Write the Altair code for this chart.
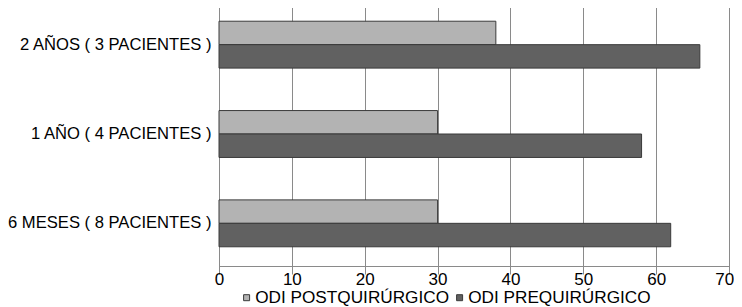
import altair as alt
import pandas as pd

categories = ["2 AÑOS ( 3 PACIENTES )", "1 AÑO ( 4 PACIENTES )", "6 MESES ( 8 PACIENTES )"]
series = ["ODI POSTQUIRÚRGICO", "ODI PREQUIRÚRGICO"]
post_values = [38, 30, 30]
pre_values = [66, 58, 62]
x_ticks = [0, 10, 20, 30, 40, 50, 60, 70]
colors = ["#b3b3b3", "#616161"]

rows = []
for cat, v in zip(categories, post_values):
    rows.append({"periodo": cat, "serie": series[0], "valor": v})
for cat, v in zip(categories, pre_values):
    rows.append({"periodo": cat, "serie": series[1], "valor": v})
df = pd.DataFrame(rows)

FONT = "Liberation Sans"
TEXT = "#000000"

chart = alt.Chart(df).mark_bar(stroke="#3a3a3a", strokeWidth=1).encode(
    x=alt.X(
        "valor:Q",
        scale=alt.Scale(domain=[0, 70], nice=False),
        axis=alt.Axis(
            values=x_ticks, title=None, grid=True, gridColor="#8a8a8a", gridWidth=1,
            ticks=False, labelPadding=5, labelFontSize=17, labelFont=FONT,
            labelColor=TEXT, domainColor="#8a8a8a", labelFlush=True,
            labelFlushOffset=4.7, labelOverlap=False,
        ),
    ),
    y=alt.Y(
        "periodo:N",
        sort=categories,
        scale=alt.Scale(range=[-8, 260], paddingInner=0.475, paddingOuter=0.2375),
        axis=alt.Axis(
            title=None, ticks=False, domain=False, labelPadding=8,
            labelFontSize=16.6, labelFont=FONT, labelColor=TEXT, labelLimit=400,
        ),
    ),
    yOffset=alt.YOffset("serie:N", sort=series, scale=alt.Scale(paddingInner=0, paddingOuter=0)),
    color=alt.Color(
        "serie:N",
        sort=series,
        scale=alt.Scale(domain=series, range=colors),
        legend=alt.Legend(
            title=None, orient="none", legendX=19, legendY=281, direction="horizontal",
            symbolType="square", symbolSize=36, symbolStrokeColor="#3a3a3a",
            symbolStrokeWidth=1, labelFontSize=17.2, labelFont=FONT, labelColor=TEXT,
            labelOffset=0, columnPadding=1, padding=0, labelLimit=400,
        ),
    ),
).properties(
    width=510,
    height=258,
    autosize=alt.AutoSizeParams(type="none"),
    padding={"left": 211, "right": 5, "top": 0, "bottom": 40},
    background="white",
).configure_view(stroke=None)

chart.save("out.html", embed_options={"renderer": "svg", "actions": False})
